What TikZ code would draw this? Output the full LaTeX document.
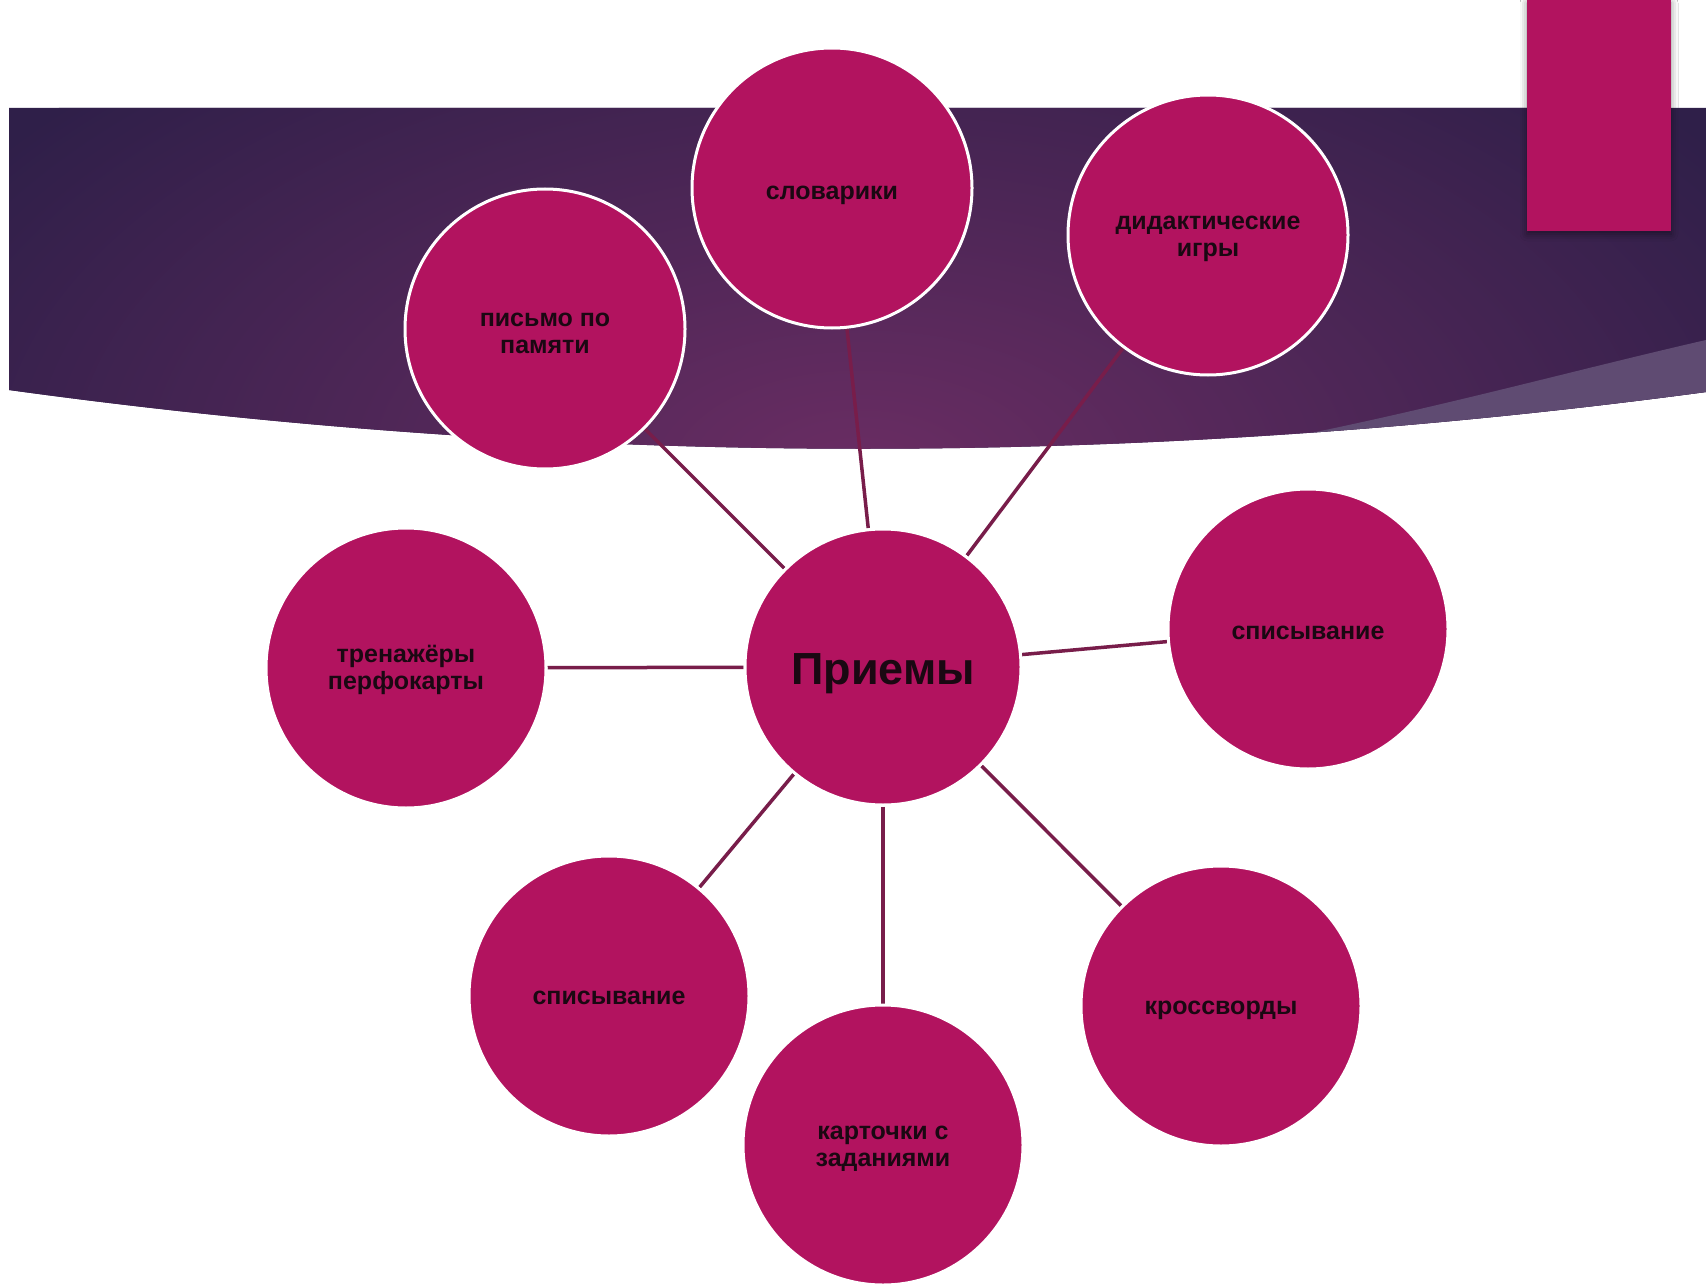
\documentclass[tikz,border=0pt]{standalone}
\usepackage{fontspec}
\setmainfont{Liberation Sans}
\usetikzlibrary{shadows.blur}
\definecolor{circ}{HTML}{B2135F}
\definecolor{conn}{HTML}{781D4A}
\definecolor{txt}{HTML}{1A0812}
\definecolor{bandlight}{HTML}{5F4B72}
\definecolor{bannerin}{HTML}{6A2D63}
\definecolor{bannerout}{HTML}{2F1F49}
\pgfdeclarelayer{bg}
\pgfdeclarelayer{lines}
\pgfsetlayers{bg,lines,main}
\begin{document}
\begin{tikzpicture}[x=1pt,y=-1pt,
  bubble/.style={circle, fill=circ, draw=white, line width=3pt, minimum size=280pt,
    inner sep=0pt},
  hub/.style={bubble, minimum size=276pt},
  lbl/.style={text=txt, font=\bfseries\fontsize{25}{27}\selectfont, align=center, inner sep=0pt, yshift=-4pt},
  hublbl/.style={lbl, font=\bfseries\fontsize{45}{50}\selectfont, yshift=-3pt},
  link/.style={draw=conn, line width=3.5pt}]
\useasboundingbox (0,0) rectangle (1706,1284);

\begin{pgfonlayer}{bg}
  \fill[white] (0,0) rectangle (1706,1284);
  \begin{scope}
    \clip (9,108) -- (1706,108) -- (1706,392)
      .. controls (1140,468) and (575,468) .. (9,390) -- cycle;
    \fill[bannerout] (0,100) rectangle (1706,480);
    \shade[inner color=bannerin, outer color=bannerout] (860,470) ellipse (1050 and 560);
    \fill[bandlight] (1706,340) .. controls (1540,378) and (1360,430) .. (1150,462)
      -- (1150,520) -- (1706,520) -- cycle;
  \end{scope}
  \fill[circ, blur shadow={shadow xshift=0pt, shadow yshift=-3pt, shadow blur radius=7pt, shadow opacity=45}]
    (1527,0) rectangle (1671,231);
\end{pgfonlayer}

\node[hub, label={[hublbl]center:Приемы}] (hub) at (883,667) {};
\node[bubble, label={[lbl, yshift=-3pt]center:словарики}] (slov) at (832,188) {};
\node[bubble, label={[lbl]center:{дидактические\\игры}}] (did) at (1208,235) {};
\node[bubble, label={[lbl]center:{письмо по\\памяти}}] (pis) at (545,329) {};
\node[bubble, label={[lbl, yshift=2pt]center:{тренажёры\\перфокарты}}] (tren) at (406,668) {};
\node[bubble, label={[lbl]center:списывание}] (spisr) at (1308,629) {};
\node[bubble, label={[lbl]center:кроссворды}] (kross) at (1221,1006) {};
\node[bubble, label={[lbl]center:{карточки с\\заданиями}}] (kart) at (883,1145) {};
\node[bubble, label={[lbl, yshift=2pt]center:списывание}] (spisl) at (609,996) {};

\begin{pgfonlayer}{lines}
  \foreach \t in {slov,did,pis,tren,spisr,kross,kart,spisl}
    \draw[link] (hub) -- (\t);
\end{pgfonlayer}
\end{tikzpicture}
\end{document}
